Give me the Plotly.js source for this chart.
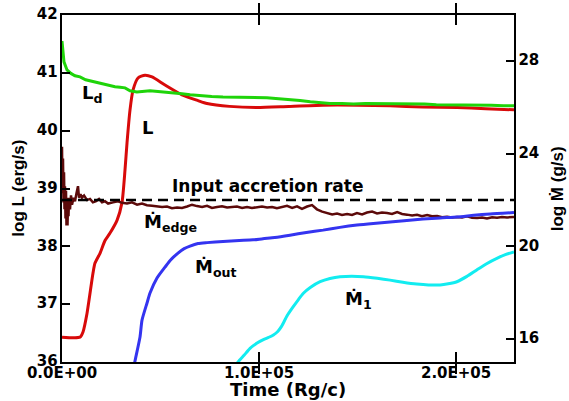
<!DOCTYPE html>
<html>
<head>
<meta charset="utf-8">
<script src="https://cdn.plot.ly/plotly-3.0.1.min.js"></script>
<style>
  html, body { margin: 0; padding: 0; background: #fff; }
  #chart { width: 569px; height: 401px; }
  /* bold tick numbers on all three axes */
  #chart .xtick text, #chart .ytick text, #chart .y2tick text {
    font-family: 'DejaVu Sans', sans-serif !important;
    font-size: 15px !important;
    font-weight: bold !important;
    fill: #000 !important;
  }
</style>
</head>
<body>
<div id="chart"></div>
<script>
// Luminosities (left axis, log erg/s) against time in Rg/c
const timeL = [0, 9140, 10660, 12690, 15740, 16750, 19290, 21830, 24370, 27920, 30460, 31980, 33000, 34520, 36040, 38580, 42130, 45690, 52280, 60910, 69040, 73600, 85000, 98980, 115000, 132500, 150000, 166500, 183000, 200500, 215000, 229400];
const logL  = [36.43, 36.43, 36.52, 36.84, 37.54, 37.71, 37.88, 38.10, 38.23, 38.45, 38.76, 39.32, 39.79, 40.36, 40.70, 40.91, 40.96, 40.93, 40.79, 40.62, 40.52, 40.47, 40.42, 40.40, 40.42, 40.44, 40.44, 40.43, 40.41, 40.40, 40.38, 40.36];

const timeLd = [0, 250, 500, 1000, 2540, 4500, 6600, 9140, 12000, 16750, 19290, 23000, 26900, 29440, 32000, 34520, 38000, 44670, 49000, 53300, 57000, 60900, 65000, 71000, 76000, 81700, 87000, 93000, 98000, 104000, 110000, 115000, 120800, 126000, 131000, 136000, 142000, 148000, 154000, 160000, 166500, 172000, 178000, 184000, 190000, 196000, 200500, 206000, 212000, 218000, 224000, 229400];
const logLd  = [41.55, 41.42, 41.30, 41.19, 41.05, 40.99, 40.95, 40.93, 40.88, 40.84, 40.82, 40.80, 40.76, 40.75, 40.74, 40.69, 40.67, 40.69, 40.68, 40.67, 40.66, 40.64, 40.62, 40.60, 40.59, 40.58, 40.58, 40.57, 40.58, 40.57, 40.55, 40.53, 40.52, 40.50, 40.48, 40.47, 40.47, 40.46, 40.47, 40.47, 40.47, 40.47, 40.46, 40.46, 40.45, 40.45, 40.45, 40.44, 40.44, 40.44, 40.43, 40.43];

// Mass rates (right axis, log g/s)
const timeEdge = [0, 250, 500, 760, 1020, 1270, 1520, 1780, 2030, 2280, 2540, 2790, 3050, 3300, 3550, 4060, 4570, 5080, 5840, 6600, 7360, 8120, 8630, 9400, 10150, 11200, 12700, 14200, 15700, 17300, 18800, 20300, 21800, 23400, 25900, 28400, 30500, 33000, 35500, 38100, 40600, 43100, 45700, 48200, 50800, 53300, 55800, 58400, 60900, 63500, 66000, 68500, 71100, 73600, 76100, 78700, 81200, 83800, 86300, 88800, 91400, 93900, 96400, 99000, 101500, 104100, 106600, 109100, 111700, 114200, 116800, 119300, 121800, 124400, 126900, 129400, 132000, 134500, 137100, 139600, 142100, 144700, 147200, 149700, 152300, 154800, 157400, 159900, 162400, 165000, 167500, 170100, 172600, 175100, 177700, 180200, 182700, 185300, 187800, 190400, 192900, 195400, 198000, 200500, 203000, 205600, 208100, 210700, 213200, 215700, 218300, 220800, 223300, 225900, 229400];
const logMedge  = [24.3, 22.3, 23.8, 21.9, 23.2, 21.6, 22.6, 21.2, 22.4, 20.9, 22.1, 20.9, 21.9, 21.3, 22.1, 21.6, 22.2, 21.8, 22.1, 21.95, 22.3, 22.6, 22.1, 22.25, 22.1, 22.2, 22.0, 22.05, 21.9, 21.95, 22.05, 21.9, 21.95, 21.85, 21.9, 21.95, 21.88, 21.85, 21.9, 21.8, 21.85, 21.78, 21.75, 21.72, 21.7, 21.72, 21.65, 21.68, 21.66, 21.72, 21.8, 21.74, 21.7, 21.75, 21.66, 21.7, 21.73, 21.68, 21.7, 21.72, 21.66, 21.7, 21.66, 21.68, 21.72, 21.68, 21.7, 21.65, 21.7, 21.75, 21.66, 21.73, 21.62, 21.72, 21.78, 21.6, 21.5, 21.45, 21.38, 21.42, 21.36, 21.4, 21.36, 21.44, 21.38, 21.46, 21.5, 21.42, 21.46, 21.44, 21.4, 21.48, 21.4, 21.37, 21.33, 21.36, 21.3, 21.35, 21.3, 21.31, 21.26, 21.28, 21.25, 21.27, 21.25, 21.3, 21.24, 21.22, 21.25, 21.2, 21.26, 21.24, 21.27, 21.25, 21.27];

const timeOut = [36000, 37060, 39590, 40610, 43150, 44670, 48220, 52280, 55000, 58880, 62000, 64970, 69040, 73600, 81730, 90000, 97000, 102000, 108000, 115700, 124000, 132500, 141000, 149700, 158000, 166500, 175000, 183200, 192000, 200500, 209000, 217300, 229400];
const logMout  = [14.6, 15.05, 16.08, 16.81, 17.55, 17.98, 18.63, 19.10, 19.40, 19.71, 19.90, 20.01, 20.12, 20.16, 20.21, 20.25, 20.28, 20.33, 20.38, 20.48, 20.60, 20.70, 20.82, 20.92, 20.99, 21.05, 21.12, 21.18, 21.23, 21.27, 21.34, 21.40, 21.46];

const time1 = [87000, 89340, 92500, 95430, 99000, 102200, 105000, 107300, 109500, 111500, 114100, 117000, 120000, 122500, 126000, 131000, 136000, 141100, 147000, 153000, 160000, 166500, 173000, 180000, 186000, 191900, 196000, 200400, 205500, 210500, 215500, 220700, 225000, 229400];
const logM1 = [14.7, 15.0, 15.3, 15.59, 15.82, 15.97, 16.07, 16.17, 16.32, 16.55, 16.98, 17.35, 17.70, 17.97, 18.22, 18.47, 18.61, 18.69, 18.71, 18.69, 18.62, 18.54, 18.45, 18.37, 18.33, 18.33, 18.38, 18.47, 18.70, 18.98, 19.25, 19.48, 19.64, 19.76];

const timeInput = [0, 229400];
const logMinput = [22, 22];

// Axis ticks
const timeTicks = [0, 100000, 200000];
const timeTickText = ['0.0E+00', '1.0E+05', '2.0E+05'];

const FONT = 'DejaVu Sans';
const NARROW = 'Liberation Sans';

const traces = [
  { x: timeEdge, y: logMedge, yaxis: 'y2', mode: 'lines',
    line: { color: '#5c0a0a', width: 2.5 } },
  { x: timeOut, y: logMout, yaxis: 'y2', mode: 'lines',
    line: { color: '#3434f0', width: 3, shape: 'spline', smoothing: 0.6 } },
  { x: time1, y: logM1, yaxis: 'y2', mode: 'lines',
    line: { color: '#12ecf0', width: 3, shape: 'spline', smoothing: 0.6 } },
  { x: timeInput, y: logMinput, yaxis: 'y2', mode: 'lines',
    line: { color: '#000', width: 2.5, dash: '10px,6px' } },
  { x: timeL, y: logL, mode: 'lines',
    line: { color: '#d80a0a', width: 3, shape: 'spline', smoothing: 0.6 } },
  { x: timeLd, y: logLd, mode: 'lines',
    line: { color: '#1fd40a', width: 3 } }
];

// curve labels placed in data coordinates
function label(text, x, y, size) {
  return { text: '<b>' + text + '</b>', x: x, y: y, xref: 'x', yref: 'y', showarrow: false,
           xanchor: 'left', yanchor: 'middle',
           font: { family: FONT, size: size, color: '#000' } };
}

// axis titles placed around the plotting frame
function axisTitle(text, x, y, angle, family, size) {
  return { text: '<b>' + text + '</b>', x: x, y: y, xref: 'paper', yref: 'paper', showarrow: false,
           xanchor: 'center', yanchor: 'middle', textangle: angle,
           font: { family: family, size: size, color: '#000' } };
}

const layout = {
  width: 569, height: 401,
  margin: { l: 62, r: 55, t: 15, b: 39 },
  showlegend: false,
  xaxis: {
    range: [0, 229400],
    tickmode: 'array', tickvals: timeTicks, ticktext: timeTickText,
    ticks: 'inside', ticklen: 10, tickwidth: 2, tickcolor: '#000',
    showline: true, linewidth: 2, linecolor: '#000', mirror: 'allticks',
    showgrid: false, zeroline: false
  },
  yaxis: {
    range: [36, 42], dtick: 1,
    ticks: 'inside', ticklen: 8, tickwidth: 2, tickcolor: '#000',
    showline: true, linewidth: 2, linecolor: '#000',
    showgrid: false, zeroline: false
  },
  yaxis2: {
    overlaying: 'y', side: 'right',
    range: [15, 30], tick0: 16, dtick: 4,
    ticks: 'inside', ticklen: 8, tickwidth: 2, tickcolor: '#000',
    showline: true, linewidth: 2, linecolor: '#000',
    showgrid: false, zeroline: false
  },
  annotations: [
    axisTitle('Time (Rg/c)', 0.5, -0.078, 0, FONT, 18),
    axisTitle('log L (erg/s)', -0.097, 0.5, -90, NARROW, 17),
    axisTitle('log Ṁ (g/s)', 1.097, 0.5, -90, NARROW, 17),
    label('L<sub>d</sub>', 9137, 40.63, 18),
    label('L', 39600, 40.05, 18),
    label('Input accretion rate', 54800, 39.04, 17),
    label('Ṁ<sub>edge</sub>', 40600, 38.40, 18),
    label('Ṁ<sub>out</sub>', 66500, 37.62, 18),
    label('Ṁ<sub>1</sub>', 142600, 37.07, 18)
  ]
};

Plotly.newPlot('chart', traces, layout, { displayModeBar: false });
</script>
</body>
</html>
